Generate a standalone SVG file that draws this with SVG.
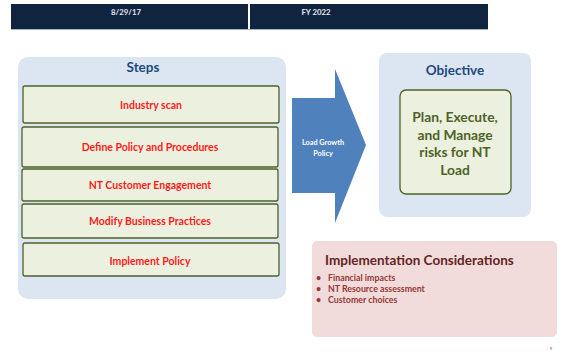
<svg xmlns="http://www.w3.org/2000/svg" width="569" height="352" viewBox="0 0 569 352">
<style>
text{font-family:Lato,"Open Sans","Liberation Sans",sans-serif;font-weight:bold}
.hdr{fill:#10243f}
.hdrt{fill:#e4e8ee;font-size:7.8px;text-anchor:middle}
.panel{fill:#dce6f2}
.step{fill:#ebf1de;stroke:#4f6228;stroke-width:1.3}
.stept{fill:#ff1a1a;font-size:10.5px;text-anchor:middle}
.title{fill:#1f497d;font-size:13.5px;text-anchor:middle}
.obj{fill:#4f6228;font-size:13.8px;text-anchor:middle}
.bul{fill:#953735;font-size:8.8px}
</style>
<g id="header">
<rect class="hdr" x="11" y="4" width="237" height="25"/>
<rect class="hdr" x="250" y="4" width="238" height="25"/>
<line x1="11" y1="29.5" x2="488" y2="29.5" stroke="#8ea0b8" stroke-width="0.8"/>
<text class="hdrt" x="126" y="15">8/29/17</text>
<text class="hdrt" x="316" y="15">FY 2022</text>
</g>
<g id="steps">
<rect class="panel" x="18" y="57" width="268" height="242" rx="10"/>
<text class="title" x="143" y="72">Steps</text>
</g>
<g id="step1"><rect class="step" x="23" y="86" width="256" height="37" rx="2"/><text class="stept" x="151" y="108.5">Industry scan</text></g>
<g id="step2"><rect class="step" x="22" y="127" width="256" height="40" rx="2"/><text class="stept" x="150" y="150.5">Define Policy and Procedures</text></g>
<g id="step3"><rect class="step" x="22" y="169" width="256" height="32" rx="2"/><text class="stept" x="150" y="188.5">NT Customer Engagement</text></g>
<g id="step4"><rect class="step" x="22" y="204" width="256" height="34" rx="2"/><text class="stept" x="150" y="224.5">Modify Business Practices</text></g>
<g id="step5"><rect class="step" x="23" y="243" width="256" height="33" rx="2"/><text class="stept" x="150" y="264.5">Implement Policy</text></g>
<g id="arrow">
<polygon points="292,98 335,98 335,69 366,145 335,223 335,193 292,193" fill="#4f81bd"/>
<text x="323" y="144.5" fill="#ffffff" font-size="7.3" text-anchor="middle">Load Growth</text>
<text x="323" y="155.5" fill="#ffffff" font-size="7.3" text-anchor="middle">Policy</text>
</g>
<g id="objective">
<rect class="panel" x="379" y="53" width="152" height="164" rx="8"/>
<text class="title" x="455" y="75">Objective</text>
</g>
<g id="objbox">
<rect class="step" x="400" y="90" width="111" height="104" rx="6"/>
<text class="obj" x="455" y="122">Plan, Execute,</text>
<text class="obj" x="455" y="139.5">and Manage</text>
<text class="obj" x="455" y="157">risks for NT</text>
<text class="obj" x="455" y="174.5">Load</text>
</g>
<g id="implementation">
<rect x="312" y="241" width="245" height="96" rx="5" fill="#f2dcdb"/>
<text x="325" y="265" fill="#632523" font-size="13.5">Implementation Considerations</text>
<text class="bul" x="316" y="281">•</text><text class="bul" x="328" y="281">Financial impacts</text>
<text class="bul" x="316" y="292">•</text><text class="bul" x="328" y="292">NT Resource assessment</text>
<text class="bul" x="316" y="303">•</text><text class="bul" x="328" y="303">Customer choices</text>
</g>
<text x="551" y="350" fill="#888888" font-size="4" font-weight="normal" text-anchor="middle">9</text>
</svg>
